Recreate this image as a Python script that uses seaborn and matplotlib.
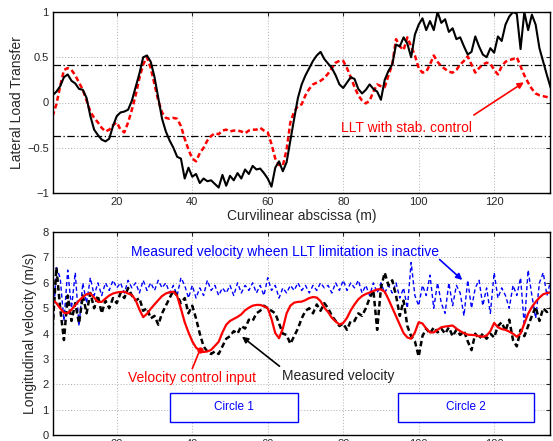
import numpy as np
import pandas as pd
import matplotlib
matplotlib.use("Agg")
import matplotlib.pyplot as plt
import seaborn as sns
from matplotlib.patches import Rectangle

# ---------------- data ----------------
x_m = list(range(3, 136))  # curvilinear abscissa (m), 1 m sampling

llt_no_ctrl = [0.08, 0.12, 0.18, 0.28, 0.31, 0.24, 0.21, 0.15, 0.14, 0.05,
               -0.15, -0.30, -0.36, -0.41, -0.43, -0.40, -0.26, -0.15, -0.11, -0.10,
               -0.08, 0.02, 0.17, 0.32, 0.50, 0.52, 0.45, 0.28, 0.05, -0.18,
               -0.32, -0.42, -0.50, -0.60, -0.62, -0.84, -0.72, -0.82, -0.79, -0.89,
               -0.84, -0.87, -0.86, -0.90, -0.94, -0.80, -0.92, -0.81, -0.86, -0.78,
               -0.84, -0.74, -0.79, -0.70, -0.74, -0.73, -0.78, -0.84, -0.93, -0.72,
               -0.65, -0.76, -0.66, -0.42, -0.18, 0.05, 0.20, 0.30, 0.38, 0.46,
               0.52, 0.56, 0.48, 0.43, 0.38, 0.30, 0.20, 0.16, 0.22, 0.28,
               0.26, 0.15, 0.10, 0.14, 0.20, 0.15, 0.12, 0.03, 0.25, 0.35,
               0.42, 0.64, 0.62, 0.72, 0.65, 0.50, 0.75, 0.86, 0.93, 0.80,
               0.90, 0.80, 1.00, 0.88, 0.92, 0.78, 0.82, 0.70, 0.72, 0.62,
               0.53, 0.56, 0.73, 0.62, 0.53, 0.50, 0.60, 0.55, 0.73, 0.68,
               0.86, 0.95, 1.00, 0.98, 0.59, 1.00, 0.80, 0.97, 0.86, 0.60,
               0.45, 0.30, 0.16]

llt_stab = [-0.15, -0.02, 0.18, 0.36, 0.38, 0.36, 0.30, 0.22, 0.14, 0.02,
            -0.10, -0.17, -0.22, -0.28, -0.32, -0.30, -0.25, -0.22, -0.30, -0.33,
            -0.22, -0.08, 0.08, 0.27, 0.42, 0.50, 0.38, 0.20, 0.02, -0.11,
            -0.17, -0.18, -0.17, -0.18, -0.26, -0.40, -0.52, -0.62, -0.65, -0.56,
            -0.50, -0.42, -0.37, -0.34, -0.35, -0.31, -0.30, -0.32, -0.31, -0.31,
            -0.32, -0.34, -0.31, -0.30, -0.30, -0.28, -0.31, -0.33, -0.46, -0.62,
            -0.69, -0.70, -0.52, -0.22, -0.10, -0.04, -0.02, 0.08, 0.15, 0.20,
            0.22, 0.24, 0.27, 0.32, 0.38, 0.44, 0.46, 0.46, 0.38, 0.28,
            0.17, 0.08, 0.02, -0.01, 0.02, 0.12, 0.20, 0.18, 0.17, 0.30,
            0.42, 0.70, 0.62, 0.58, 0.72, 0.62, 0.52, 0.38, 0.33, 0.34,
            0.42, 0.52, 0.45, 0.40, 0.37, 0.34, 0.33, 0.36, 0.42, 0.46,
            0.51, 0.42, 0.33, 0.38, 0.42, 0.44, 0.43, 0.36, 0.31, 0.40,
            0.45, 0.47, 0.48, 0.50, 0.40, 0.30, 0.22, 0.15, 0.10, 0.08,
            0.07, 0.06, 0.05]

llt_limits = [0.41, -0.37]

v_input = [5.33, 5.20, 5.00, 4.82, 4.80, 4.95, 5.12, 5.30, 5.44, 5.55,
           5.58, 5.42, 5.25, 5.25, 5.38, 5.50, 5.58, 5.62, 5.64, 5.65,
           5.58, 5.52, 5.32, 4.95, 4.65, 4.78, 4.98, 5.15, 5.32, 5.48,
           5.58, 5.63, 5.65, 5.48, 4.98, 4.45, 4.05, 3.70, 3.45, 3.33,
           3.28, 3.30, 3.36, 3.52, 3.68, 4.05, 4.35, 4.50, 4.58, 4.66,
           4.76, 4.92, 5.02, 5.10, 5.13, 5.13, 5.08, 5.00, 4.58, 4.02,
           3.82, 4.20, 4.80, 5.10, 5.22, 5.25, 5.26, 5.32, 5.40, 5.44,
           5.42, 5.28, 5.02, 4.85, 4.62, 4.48, 4.36, 4.42, 4.62, 4.92,
           5.15, 5.35, 5.48, 5.56, 5.62, 5.68, 5.74, 5.74, 5.65, 5.35,
           5.02, 4.68, 4.35, 4.02, 3.85, 3.80, 4.05, 4.45, 4.40, 4.20,
           4.05, 4.05, 4.15, 4.25, 4.28, 4.30, 4.32, 4.20, 4.10, 4.02,
           3.96, 3.95, 3.94, 3.90, 3.88, 3.92, 4.10, 4.42, 4.25, 4.18,
           4.15, 4.08, 4.00, 3.88, 4.00, 4.40, 4.78, 5.05, 5.25, 5.42,
           5.55, 5.60, 5.62]

v_measured = [4.2, 6.6, 5.0, 3.75, 5.5, 4.5, 5.2, 4.4, 5.5, 4.8,
              5.6, 5.0, 5.5, 4.8, 5.3, 5.0, 5.4, 5.2, 5.6, 5.4,
              5.8, 5.5, 5.3, 5.4, 4.9, 5.0, 4.6, 4.7, 4.35, 4.8,
              5.1, 5.4, 5.7, 5.5, 5.2, 5.4, 4.8, 5.1, 4.6, 4.0,
              3.5, 3.3, 3.2, 3.3, 3.2, 3.5, 3.8, 3.9, 4.1, 4.0,
              4.3, 4.2, 4.55, 4.5, 4.8, 4.9, 5.1, 5.0, 4.9, 4.8,
              4.4, 4.0, 3.95, 3.6, 3.9, 4.2, 4.6, 4.9, 5.0, 4.8,
              5.15, 4.9, 5.2, 5.0, 4.7, 4.5, 4.3, 4.4, 4.15, 4.5,
              4.5, 4.8, 4.7, 5.0, 5.4, 5.7, 4.15, 5.8, 6.4, 5.9,
              6.1, 5.5, 4.7, 5.3, 4.3, 3.9, 3.7, 3.1, 3.9, 4.2,
              4.0, 4.25, 4.05, 4.2, 4.0, 4.25, 3.9, 4.15, 3.95, 4.1,
              3.7, 3.35, 4.0, 3.8, 4.0, 3.8, 4.0, 3.85, 4.3, 4.45,
              4.1, 4.55, 3.75, 3.5, 4.15, 3.9, 4.3, 4.7, 5.05, 4.5,
              5.0, 4.85, 5.0]

v_no_limit = [4.1, 6.6, 6.2, 4.5, 6.5, 5.0, 6.4, 4.3, 6.0, 5.2,
              6.2, 5.5, 6.0, 5.5, 6.0, 5.7, 6.1, 5.8, 6.0, 5.6,
              6.1, 5.8, 6.0, 5.6, 6.1, 5.7, 6.0, 5.7, 6.1, 5.8,
              6.0, 5.6, 5.9, 5.5, 6.2, 5.9, 5.4, 5.9, 5.4, 5.8,
              5.5, 6.1, 5.7, 5.9, 5.5, 5.8, 5.6, 5.9, 5.5, 6.0,
              5.6, 5.9, 5.7, 6.0, 5.6, 5.9, 5.5, 6.2, 5.7, 5.9,
              5.4, 5.8, 5.6, 5.9, 5.7, 6.0, 5.7, 5.9, 5.6, 5.9,
              5.7, 6.0, 5.8, 5.9, 5.6, 6.0, 5.7, 6.1, 5.7, 6.0,
              5.8, 6.1, 5.6, 5.9, 5.5, 6.0, 5.6, 6.0, 5.6, 5.9,
              5.6, 6.0, 5.4, 5.8, 5.0, 6.8, 5.5, 5.1, 5.9, 5.5,
              6.3, 5.0, 6.0, 5.2, 4.8, 6.0, 5.1, 5.9, 5.6, 4.7,
              6.1, 5.0, 5.8, 6.1, 5.1, 5.8, 4.8, 6.4, 5.4, 5.8,
              5.5, 5.0, 5.9, 5.5, 6.2, 4.3, 6.5, 5.5, 4.6, 6.0,
              6.4, 5.5, 6.1]

circle_labels = ["Circle 1", "Circle 2"]
circle_x0 = [34.1, 94.4]
circle_x1 = [67.9, 130.6]

# ---------------- style ----------------
sns.set_style("white")
plt.rcParams["font.family"] = ["Liberation Sans", "DejaVu Sans"]
plt.rcParams["axes.unicode_minus"] = True

fig = plt.figure(figsize=(5.53, 4.41), dpi=100)
ax1 = fig.add_axes([53/553, 1-193/441, 497/553, 181/441])
ax2 = fig.add_axes([53/553, 1-435.3/441, 497/553, 203.3/441])

df_top = pd.DataFrame({"x": x_m, "no": llt_no_ctrl, "stab": llt_stab})
df_bot = pd.DataFrame({"x": x_m, "vin": v_input, "vm": v_measured, "vnl": v_no_limit})

RED = "#ff0000"
BLUE = "#0000ff"

# ---------------- top panel ----------------
for lim in llt_limits:
    ax1.axhline(lim, color="black", lw=0.9, ls=(0, (6, 2, 1, 2)), zorder=2)
sns.lineplot(data=df_top, x="x", y="stab", ax=ax1, color=RED, lw=1.8,
             estimator=None, sort=False, zorder=3)
ax1.lines[-1].set_linestyle((0, (2.0, 1.2)))
sns.lineplot(data=df_top, x="x", y="no", ax=ax1, color="black", lw=1.5,
             estimator=None, sort=False, zorder=4)

ax1.set_xlim(3.1, 134.8)
ax1.set_ylim(-1, 1)
ax1.set_yticks([-1, -0.5, 0, 0.5, 1])
ax1.set_yticklabels(["\u22121", "\u22120.5", "0", "0.5", "1"])
ax1.set_xticks([20, 40, 60, 80, 100, 120])
ax1.set_xlabel("Curvilinear abscissa (m)", fontsize=10, labelpad=1)
ax1.set_ylabel("Lateral Load Transfer", fontsize=10, labelpad=2)
ax1.text(79.3, -0.28, "LLT with stab. control", color=RED, fontsize=10,
         ha="left", va="center")
ax1.annotate("", xy=(128.5, 0.24), xytext=(114, -0.155),
             arrowprops=dict(arrowstyle="-|>", color=RED, lw=1.2,
                             mutation_scale=9))

# ---------------- bottom panel ----------------
sns.lineplot(data=df_bot, x="x", y="vnl", ax=ax2, color=BLUE, lw=1.0,
             estimator=None, sort=False, zorder=2)
ax2.lines[-1].set_linestyle((0, (3.0, 2.0)))
sns.lineplot(data=df_bot, x="x", y="vm", ax=ax2, color="black", lw=1.8,
             estimator=None, sort=False, zorder=3)
ax2.lines[-1].set_linestyle((0, (2.2, 1.3)))
sns.lineplot(data=df_bot, x="x", y="vin", ax=ax2, color=RED, lw=1.6,
             estimator=None, sort=False, zorder=4)

ax2.set_xlim(3.1, 134.8)
ax2.set_ylim(0, 8)
ax2.set_yticks(range(0, 9))
ax2.set_xticks([20, 40, 60, 80, 100, 120])
ax2.set_xlabel("")
ax2.set_ylabel("Longitudinal velocity (m/s)", fontsize=10, labelpad=4)

ax2.text(64.5, 7.23, "Measured velocity wheen LLT limitation is inactive",
         color=BLUE, fontsize=10, ha="center", va="center")
ax2.annotate("", xy=(112.1, 6.04), xytext=(105, 6.99),
             arrowprops=dict(arrowstyle="-|>", color=BLUE, lw=1.2,
                             mutation_scale=9))
ax2.text(39.9, 2.26, "Velocity control input", color=RED, fontsize=10,
         ha="center", va="center")
ax2.plot([40.0, 42.0], [2.62, 3.35], color=RED, lw=1.2, zorder=5)
ax2.plot([42.0], [3.35], marker="o", ms=3.5, color=RED, zorder=5)
ax2.text(63.7, 2.34, "Measured velocity", color="#222222", fontsize=10,
         ha="left", va="center")
ax2.annotate("", xy=(52.6, 3.95), xytext=(63.7, 2.65),
             arrowprops=dict(arrowstyle="-|>", color="black", lw=1.2,
                             mutation_scale=9))

for lab, a, b in zip(circle_labels, circle_x0, circle_x1):
    ax2.add_patch(Rectangle((a, 0.52), b - a, 1.15, fill=True, facecolor="white",
                            edgecolor=BLUE, lw=1.0, zorder=5))
    ax2.text((a + b) / 2, 0.52 + 1.15 / 2, lab, color=BLUE, fontsize=8.5,
             ha="center", va="center", zorder=6)

for ax in (ax1, ax2):
    ax.grid(True, color="#b0b0b0", ls=(0, (1, 2)), lw=0.7)
    ax.tick_params(direction="in", top=True, right=True, length=3,
                   labelsize=8, pad=3, width=0.8)
    for s in ax.spines.values():
        s.set_color("black")
        s.set_linewidth(1.0)
        s.set_zorder(10)

fig.savefig("out.png", dpi=100, facecolor="white")
